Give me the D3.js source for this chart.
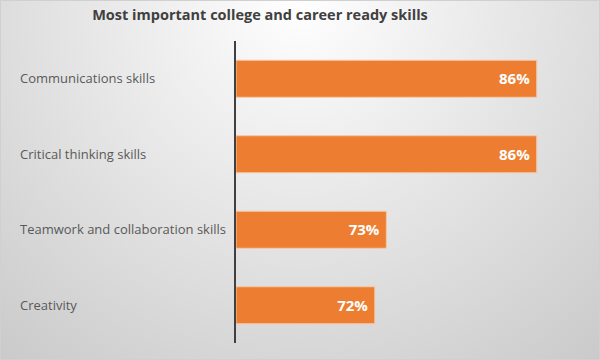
<!DOCTYPE html>
<meta charset="utf-8">
<style>
  body { margin: 0; }
  text { font-family: 'Open Sans', 'Noto Sans', sans-serif; }
</style>
<svg width="600" height="360"></svg>
<script src="https://cdn.jsdelivr.net/npm/d3@7"></script>
<script>
var categories = ['Communications skills', 'Critical thinking skills', 'Teamwork and collaboration skills', 'Creativity']
var values = [0.86, 0.86, 0.73, 0.72]
var axisMin = 0.6
var axisMax = 0.9
var title = 'Most important college and career ready skills'

var data = categories.map(function(c, i) { return { name: c, value: values[i] } })

var svg = d3.select('svg')
var defs = svg.append('defs')
var grad = defs.append('radialGradient')
    .attr('id', 'bg')
    .attr('gradientUnits', 'userSpaceOnUse')
    .attr('cx', 300).attr('cy', 0).attr('r', 520)
grad.append('stop').attr('offset', '0%').attr('stop-color', '#ffffff')
grad.append('stop').attr('offset', '100%').attr('stop-color', '#c4c4c4')

svg.append('rect')
    .attr('x', 0.5).attr('y', 0.5)
    .attr('width', 599).attr('height', 359)
    .attr('fill', 'url(#bg)')
    .attr('stroke', '#d0d0d0')

var x = d3.scaleLinear().domain([axisMin, axisMax]).range([236, 583])
var y = d3.scaleBand().domain(categories).range([41, 343]).paddingInner(0.51).paddingOuter(0.255)

svg.append('text')
    .attr('x', 260)
    .attr('y', 20)
    .attr('text-anchor', 'middle')
    .attr('fill', '#404040')
    .style('font-size', '14.5px')
    .style('font-weight', 'bold')
    .text(title)

svg.selectAll('.bar')
    .data(data)
  .enter().append('rect')
    .attr('class', 'bar')
    .attr('x', x(axisMin))
    .attr('y', function(d) { return y(d.name) })
    .attr('width', function(d) { return x(d.value) - x(axisMin) })
    .attr('height', y.bandwidth())
    .attr('fill', '#ED7D31')
    .attr('stroke', '#f6c8a8')
    .attr('stroke-width', 1)

svg.selectAll('.val')
    .data(data)
  .enter().append('text')
    .attr('class', 'val')
    .attr('x', function(d) { return x(d.value) - 7 })
    .attr('y', function(d) { return y(d.name) + y.bandwidth() / 2 })
    .attr('dy', '0.36em')
    .attr('text-anchor', 'end')
    .attr('fill', '#ffffff')
    .style('font-size', '15px')
    .style('font-weight', 'bold')
    .text(function(d) { return Math.round(d.value * 100) + '%' })

svg.selectAll('.cat')
    .data(data)
  .enter().append('text')
    .attr('class', 'cat')
    .attr('x', 20)
    .attr('y', function(d) { return y(d.name) + y.bandwidth() / 2 })
    .attr('dy', '0.36em')
    .attr('fill', '#595959')
    .style('font-size', '13px')
    .text(function(d) { return d.name })

svg.append('line')
    .attr('x1', x(axisMin) - 1).attr('x2', x(axisMin) - 1)
    .attr('y1', 41).attr('y2', 343)
    .attr('stroke', '#404040')
    .attr('stroke-width', 2)
</script>
